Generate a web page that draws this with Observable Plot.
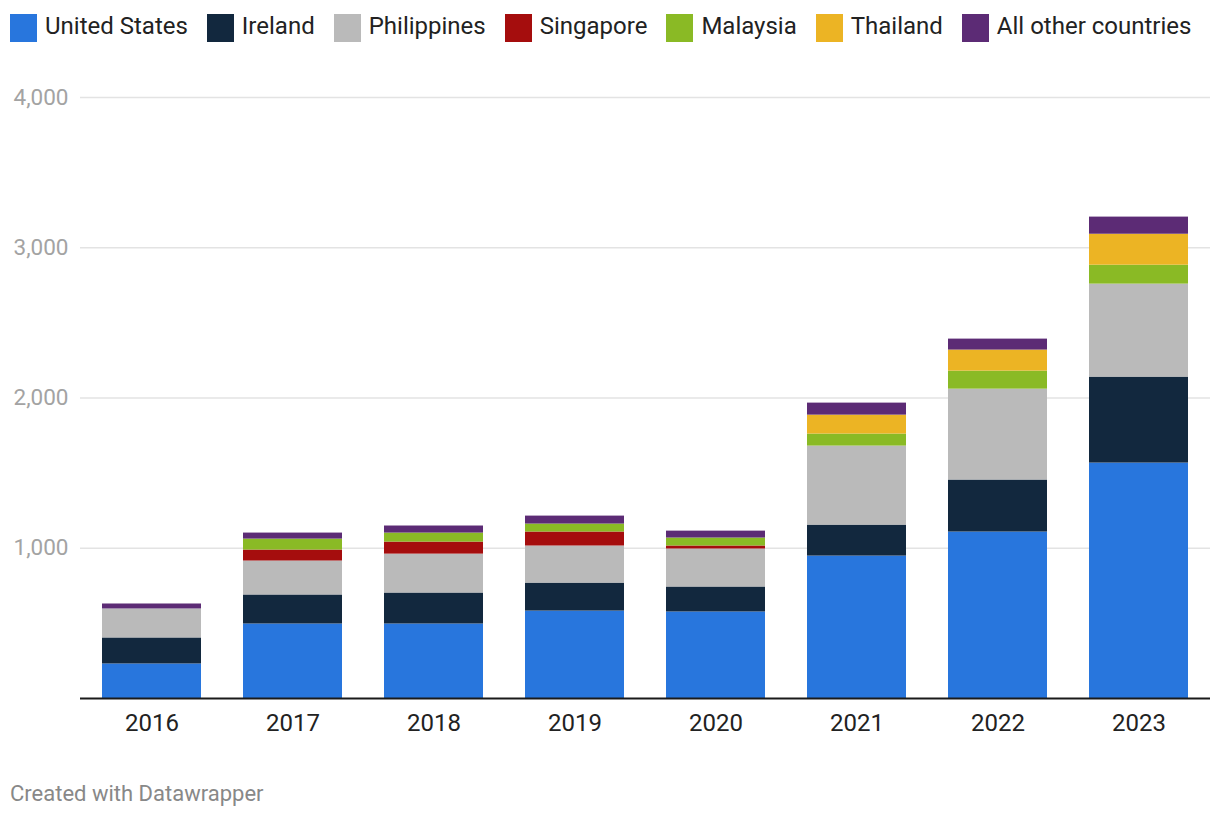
<!DOCTYPE html>
<html>
<head>
<meta charset="utf-8">
<script src="https://cdn.jsdelivr.net/npm/d3@7"></script>
<script src="https://cdn.jsdelivr.net/npm/@observablehq/plot@0.6"></script>
<style>
  html, body { margin: 0; padding: 0; background: #fff; font-family: Roboto, "Noto Sans", sans-serif; }
  #legend { display: flex; align-items: center; height: 28px; padding: 14px 0 8px 10px; font-size: 24px; color: #222; }
  .item { display: flex; align-items: center; margin-right: 19px; white-space: nowrap; }
  .sw { width: 27px; height: 28px; margin-right: 8px; }
  .lt { position: relative; top: -2px; }
  #caption { position: absolute; left: 10px; top: 781px; font-size: 22px; color: #888; }
  svg { display: block; }
</style>
</head>
<body>
<div id="legend"></div>
<div id="chart"></div>
<div id="caption">Created with Datawrapper</div>
<script>
const years = ["2016", "2017", "2018", "2019", "2020", "2021", "2022", "2023"];
const countries = ["United States", "Ireland", "Philippines", "Singapore", "Malaysia", "Thailand", "All other countries"];
const colors = ["#2876dd", "#12283e", "#bababa", "#a50d0d", "#8aba25", "#ecb424", "#5c2b75"];

const unitedStates = [230, 496, 496, 582, 576, 948, 1108, 1567];
const ireland      = [173, 193, 206, 186, 166, 206, 346, 572];
const philippines  = [193, 226, 259, 247, 253, 526, 605, 619];
const singapore    = [0, 73, 80, 93, 20, 0, 0, 0];
const malaysia     = [0, 73, 60, 53, 53, 80, 120, 126];
const thailand     = [0, 0, 0, 0, 0, 126, 140, 206];
const otherCountries = [33, 40, 47, 53, 46, 80, 73, 114];

const yTicks = [1000, 2000, 3000, 4000];

const series = [unitedStates, ireland, philippines, singapore, malaysia, thailand, otherCountries];
const data = [];
countries.forEach((c, i) => {
  years.forEach((y, j) => data.push({year: y, country: c, value: series[i][j]}));
});

// legend
const legend = document.getElementById("legend");
countries.forEach((c, i) => {
  const it = document.createElement("div");
  it.className = "item";
  it.innerHTML = `<span class="sw" style="background:${colors[i]}"></span><span class="lt">${c}</span>`;
  legend.appendChild(it);
});

const chart = Plot.plot({
  width: 1220,
  height: 700,
  marginTop: 47,
  marginBottom: 52,
  marginLeft: 80,
  marginRight: 10,
  style: { fontFamily: "Roboto, sans-serif", background: "#fff" },
  x: { domain: years, paddingInner: 0.3, paddingOuter: 0.155, label: null },
  y: { domain: [0, 4000], label: null },
  color: { domain: countries, range: colors },
  marks: [
    Plot.gridY(yTicks, { stroke: "#e3e3e3", strokeOpacity: 1, strokeWidth: 1.5 }),
    Plot.axisY(yTicks, { tickSize: 0, tickPadding: 12, tickFormat: d3.format(","), fontSize: 22.5, fill: "#a3a3a3", label: null }),
    Plot.axisX({ tickSize: 0, tickPadding: 15, fontSize: 24, fill: "#222", label: null }),
    Plot.barY(data, { x: "year", y: "value", fill: "country", order: countries }),
    Plot.ruleY([0], { stroke: "#1a1a1a", strokeWidth: 2 })
  ]
});
document.getElementById("chart").appendChild(chart);
</script>
</body>
</html>
